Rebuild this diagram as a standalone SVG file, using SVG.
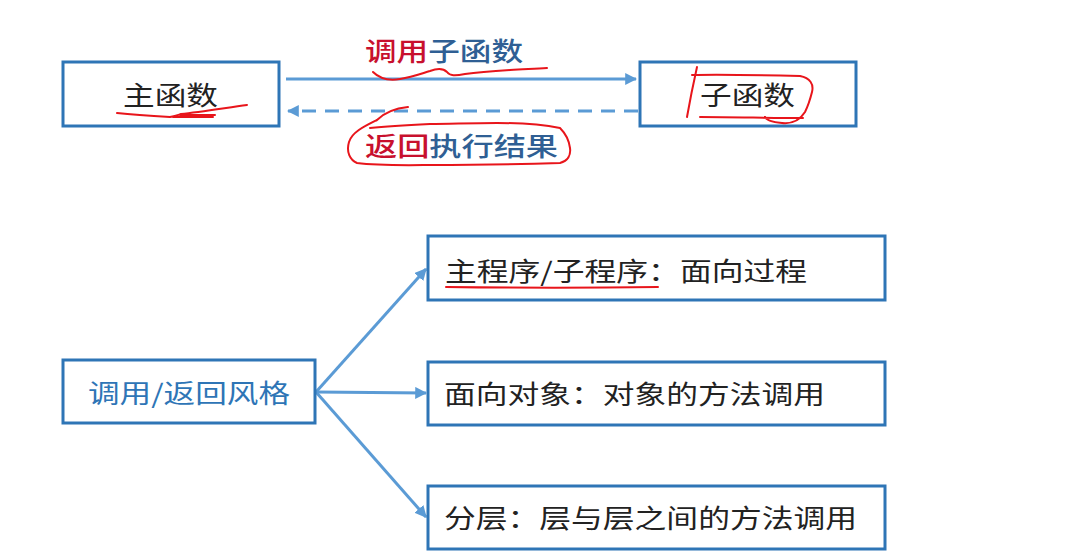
<svg xmlns="http://www.w3.org/2000/svg" width="1080" height="559" viewBox="0 0 1080 559">
<style>
.box{fill:#fff;stroke:#2e75b6;stroke-width:3}
.t{font-family:"Noto Sans CJK SC","Noto Sans",sans-serif;font-size:26px;fill:#222}
.blue{fill:#2e75b6}
.lbl{font-family:"Noto Sans CJK SC","Noto Sans",sans-serif;font-size:26px;font-weight:500;fill:#2f5f94}
.red{fill:#c8102e}
.con{stroke:#5b9bd5;stroke-width:3;fill:none}
.ink{stroke:#e8151b;stroke-width:2;fill:none;stroke-linecap:round;stroke-linejoin:round}
</style>
<defs>
<marker id="ah" viewBox="0 0 10 10" refX="9" refY="5" markerWidth="4" markerHeight="4" orient="auto" markerUnits="strokeWidth">
<path d="M0,0 L10,5 L0,10 z" fill="#5b9bd5"/>
</marker>
</defs>
<rect width="1080" height="559" fill="#fff"/>
<g id="connectors">
<line class="con" x1="286" y1="79" x2="636" y2="79" marker-end="url(#ah)"/>
<line class="con" x1="638" y1="111" x2="288" y2="111" stroke-dasharray="14,9" marker-end="url(#ah)"/>
<line class="con" x1="316" y1="392" x2="426" y2="269" marker-end="url(#ah)"/>
<line class="con" x1="316" y1="392" x2="426" y2="393" marker-end="url(#ah)"/>
<line class="con" x1="316" y1="392" x2="426" y2="517" marker-end="url(#ah)"/>
</g>
<g id="label-call">
<text class="lbl" x="365" y="61" textLength="158" lengthAdjust="spacingAndGlyphs"><tspan class="red">调用</tspan>子函数</text>
</g>
<g id="label-return">
<text class="lbl" x="365" y="156" textLength="193" lengthAdjust="spacingAndGlyphs"><tspan class="red">返回</tspan>执行结果</text>
</g>
<g id="main-func">
<rect class="box" x="63" y="62" width="216" height="64"/>
<text class="t" x="123" y="105" textLength="95" lengthAdjust="spacingAndGlyphs">主函数</text>
</g>
<g id="sub-func">
<rect class="box" x="640" y="62" width="216" height="64"/>
<text class="t" x="700" y="105" textLength="95" lengthAdjust="spacingAndGlyphs">子函数</text>
</g>
<g id="call-return-style">
<rect class="box" x="63" y="360" width="252" height="63"/>
<text class="t blue" x="88" y="403" textLength="202" lengthAdjust="spacingAndGlyphs">调用/返回风格</text>
</g>
<g id="main-sub">
<rect class="box" x="428" y="236" width="457" height="64"/>
<text class="t" x="445" y="281" textLength="362" lengthAdjust="spacingAndGlyphs">主程序/子程序：面向过程</text>
</g>
<g id="oo">
<rect class="box" x="428" y="362" width="457" height="63"/>
<text class="t" x="444" y="404" textLength="381" lengthAdjust="spacingAndGlyphs">面向对象：对象的方法调用</text>
</g>
<g id="layered">
<rect class="box" x="428" y="486" width="457" height="63"/>
<text class="t" x="444" y="528" textLength="413" lengthAdjust="spacingAndGlyphs">分层：层与层之间的方法调用</text>
</g>
<g id="annotations">
<path class="ink" d="M373,72 C380,79 388,81 400,79 C412,77 420,74 430,71 C438,68 443,68 447,72 C450,76 455,76 465,74 C480,72 495,71 510,70 C525,69 535,69 547,68"/>
<path class="ink" d="M117,113 C135,115 152,116 170,117 C176,116 178,115 181,114 C200,112 225,108 247,105 M173,117 C190,117 200,117 213,117 M180,115 C195,115 205,115 215,115"/>
<path class="ink" d="M408,107 C398,108 385,112 377,120 C365,126 352,132 349,142 C346,152 350,160 357,163 C380,166 420,165 430,165 C480,165 530,164 560,163 C568,161 571,155 570,148 C569,140 566,134 560,128 C540,124 520,123 497,123 C470,123 450,124 430,124 C410,125 390,126 370,128"/>
<path class="ink" d="M697,67 C693,85 690,100 687,117"/>
<path class="ink" d="M692,75 C720,74 760,75 800,76 C810,78 814,84 812,92 C810,100 808,106 805,112 C800,120 792,124 782,123 C772,122 766,120 765,117 M700,117 C735,117 770,118 803,118"/>
<path class="ink" d="M446,287 C520,288 590,288 658,287"/>
</g>
</svg>
